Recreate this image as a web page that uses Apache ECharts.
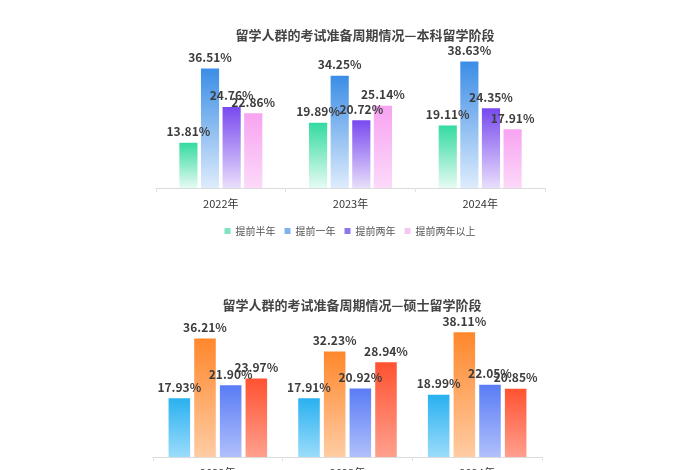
<!DOCTYPE html>
<html>
<head>
<meta charset="utf-8">
<script src="https://cdn.jsdelivr.net/npm/echarts@6/dist/echarts.min.js"></script>
<style>
html,body{margin:0;padding:0;background:#fff;}
#main{width:700px;height:470px;}
</style>
</head>
<body>
<div id="main"></div>
<script>
var years = ['2022年', '2023年', '2024年'];
var seriesNames = ['提前半年', '提前一年', '提前两年', '提前两年以上'];
// 本科留学阶段
var ugHalfYear = [13.81, 19.89, 19.11];
var ugOneYear = [36.51, 34.25, 38.63];
var ugTwoYears = [24.76, 20.72, 24.35];
var ugMoreThanTwo = [22.86, 25.14, 17.91];
// 硕士留学阶段
var msHalfYear = [17.93, 17.91, 18.99];
var msOneYear = [36.21, 32.23, 38.11];
var msTwoYears = [21.90, 20.92, 22.05];
var msMoreThanTwo = [23.97, 28.94, 20.85];

var fontFamily = '"Noto Sans CJK SC", "Noto Sans", sans-serif';

function grad(top, bottom) {
    return new echarts.graphic.LinearGradient(0, 0, 0, 1, [
        {offset: 0, color: top},
        {offset: 1, color: bottom}
    ]);
}

var ugColors = [
    ['#33dba0', '#e6fbf3'],
    ['#3b8de6', '#deecfc'],
    ['#7849ef', '#e9defb'],
    ['#f7a3f1', '#fcd9f9']
];
var msColors = [
    ['#29b1f0', '#9bdcfb'],
    ['#ff872b', '#ffcca3'],
    ['#5a7cf5', '#b0c0fb'],
    ['#ff5230', '#ffa08e']
];
var legendColors = ['#7fe3c0', '#7fb3ec', '#8f76ea', '#f6c6f2'];

function makeSeries(name, data, colors, idx) {
    return {
        name: name,
        type: 'bar',
        xAxisIndex: idx,
        yAxisIndex: idx,
        data: data,
        barGap: '19%',
        barCategoryGap: idx === 0 ? '36%' : '24%',
        itemStyle: {color: grad(colors[0], colors[1])},
        label: {
            show: true,
            position: 'top',
            distance: 5,
            color: '#3d3d3d',
            fontSize: 12,
            fontWeight: 'bold',
            fontFamily: fontFamily,
            formatter: function (p) { return p.value.toFixed(2) + '%'; }
        },
        animation: false
    };
}

var ugData = [ugHalfYear, ugOneYear, ugTwoYears, ugMoreThanTwo];
var msData = [msHalfYear, msOneYear, msTwoYears, msMoreThanTwo];
var series = [];
for (var i = 0; i < 4; i++) {
    series.push(makeSeries(seriesNames[i], ugData[i], ugColors[i], 0));
}
for (var j = 0; j < 4; j++) {
    series.push(makeSeries('硕士' + seriesNames[j], msData[j], msColors[j], 1));
}

function xAxisFor(idx) {
    return {
        type: 'category',
        gridIndex: idx,
        data: years,
        axisLine: {lineStyle: {color: '#dcdcdc'}},
        axisTick: {show: true, length: 4, lineStyle: {color: '#e2e2e2'}},
        axisLabel: {
            color: '#333',
            fontSize: 11,
            fontFamily: fontFamily,
            margin: 10
        }
    };
}
function yAxisFor(idx) {
    return {
        type: 'value',
        gridIndex: idx,
        min: 0,
        max: 40,
        show: false,
        splitLine: {show: false}
    };
}

var myChart = echarts.init(document.getElementById('main'));
var option = {
    backgroundColor: '#fff',
    title: [
        {
            text: '留学人群的考试准备周期情况—本科留学阶段',
            left: 360, top: 24, textAlign: 'center',
            textStyle: {fontSize: 13, fontWeight: 'bold', color: '#444', fontFamily: fontFamily}
        },
        {
            text: '留学人群的考试准备周期情况—硕士留学阶段',
            left: 347, top: 294, textAlign: 'center',
            textStyle: {fontSize: 13, fontWeight: 'bold', color: '#444', fontFamily: fontFamily}
        }
    ],
    legend: {
        data: seriesNames.map(function (n, k) {
            return {name: n, itemStyle: {color: legendColors[k]}};
        }),
        left: 'center',
        top: 221,
        itemWidth: 6,
        itemHeight: 6,
        itemGap: 9,
        icon: 'rect',
        textStyle: {fontSize: 10, color: '#555', fontFamily: fontFamily}
    },
    grid: [
        {left: 156, width: 389, top: 57, height: 131, outerBoundsMode: 'none'},
        {left: 153, width: 389, top: 326, height: 131, outerBoundsMode: 'none'}
    ],
    xAxis: [xAxisFor(0), xAxisFor(1)],
    yAxis: [yAxisFor(0), yAxisFor(1)],
    series: series
};
myChart.setOption(option);
</script>
</body>
</html>
